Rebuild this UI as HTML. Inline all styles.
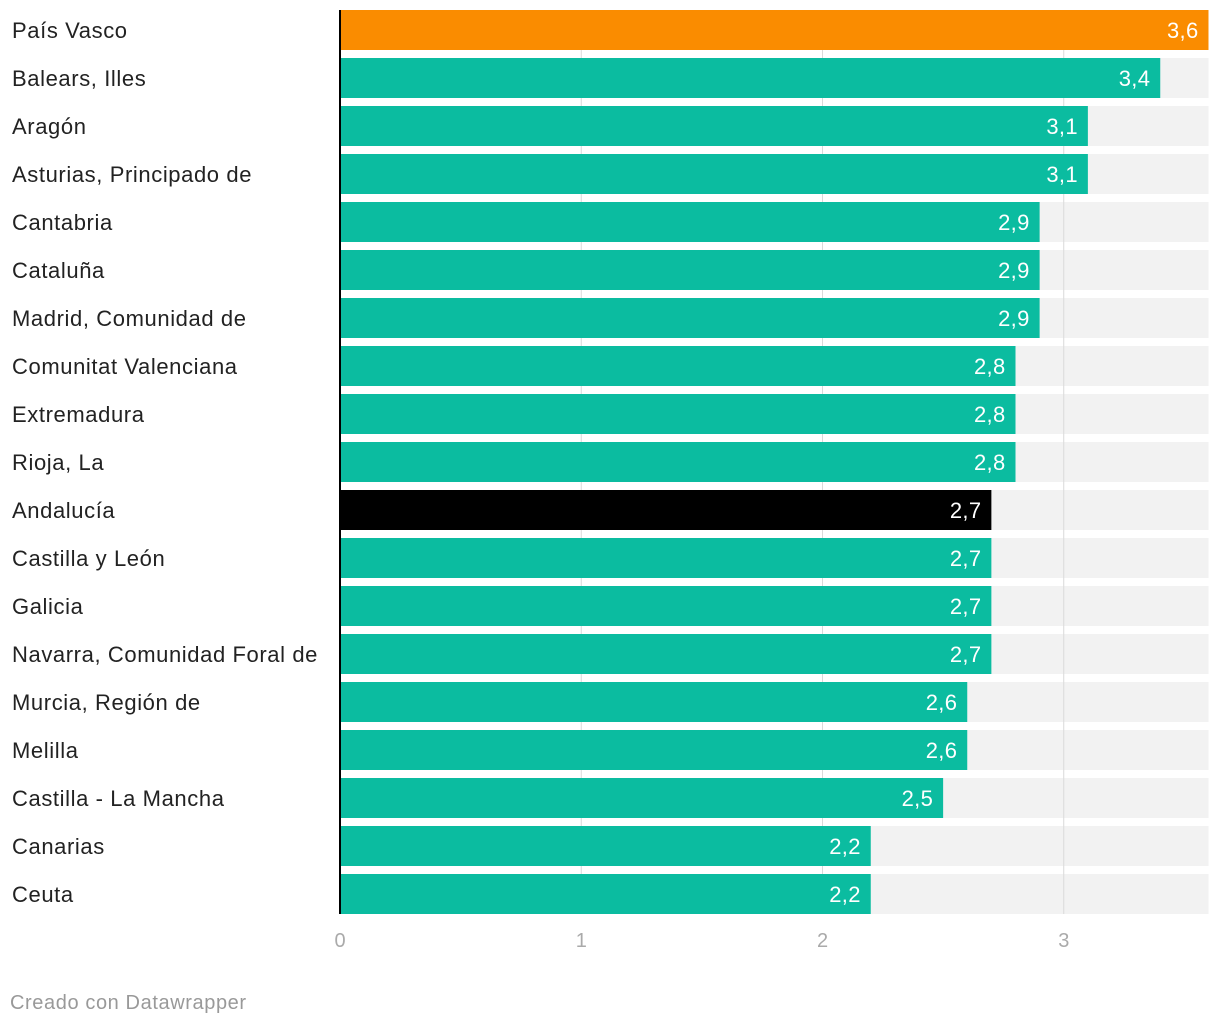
<!DOCTYPE html>
<html><head><meta charset="utf-8">
<style>
body{margin:0;background:#fff;font-family:"Liberation Sans",sans-serif;}
svg{display:block}
</style></head>
<body>
<svg id="chart" width="1220" height="1026" xmlns="http://www.w3.org/2000/svg"></svg>
<script>
const categories=["País Vasco","Balears, Illes","Aragón","Asturias, Principado de","Cantabria","Cataluña","Madrid, Comunidad de","Comunitat Valenciana","Extremadura","Rioja, La","Andalucía","Castilla y León","Galicia","Navarra, Comunidad Foral de","Murcia, Región de","Melilla","Castilla - La Mancha","Canarias","Ceuta"];
const values=[3.6,3.4,3.1,3.1,2.9,2.9,2.9,2.8,2.8,2.8,2.7,2.7,2.7,2.7,2.6,2.6,2.5,2.2,2.2];
const ticks=[0,1,2,3];
const maxVal=3.6;
const svg=document.getElementById('chart');
const NS='http://www.w3.org/2000/svg';
const x0=340,x1=1208.5,top0=10,pitch=48,bh=40;
const xs=v=>x0+(v/maxVal)*(x1-x0);
function mk(t,a){const e=document.createElementNS(NS,t);for(const k in a)e.setAttribute(k,a[k]);svg.appendChild(e);return e;}
const bottom=top0+pitch*(categories.length-1)+bh;
categories.forEach((c,i)=>{
  const y=top0+i*pitch;
  const bg=mk('rect',{x:x0,y:y,width:x1-x0,height:bh,fill:'#f2f2f2'});
  
  
});
ticks.forEach(t=>{
  if(t>0){const g=mk('line',{x1:xs(t),x2:xs(t),y1:top0,y2:bottom,stroke:'#d9d9d9','stroke-width':1});
  
  }
  const tl=mk('text',{x:xs(t),y:947,'text-anchor':'middle','font-size':20,fill:'#aaaaaa'});
  tl.textContent=t;
  
  
});
categories.forEach((c,i)=>{
  const y=top0+i*pitch;
  const col=c==="País Vasco"?'#fa8c00':(c==="Andalucía"?'#000000':'#0bbca0');
  const b=mk('rect',{x:x0,y:y,width:xs(values[i])-x0,height:bh,fill:col});
  
  
  const l=mk('text',{x:12,y:y+28,'font-size':22,fill:'#222','letter-spacing':'0.6'});
  l.textContent=c;
  
  
  const v=mk('text',{x:xs(values[i])-10,y:y+28,'font-size':22,fill:'#fff','text-anchor':'end','letter-spacing':'0.3'});
  v.textContent=values[i].toFixed(1).replace('.',',');
  
  
});
const ax=mk('line',{x1:x0,x2:x0,y1:top0,y2:bottom,stroke:'#000','stroke-width':2});


const f=mk('text',{x:10,y:1009,'font-size':20,fill:'#999','letter-spacing':'0.6'});
f.textContent='Creado con Datawrapper';


</script>
</body></html>
